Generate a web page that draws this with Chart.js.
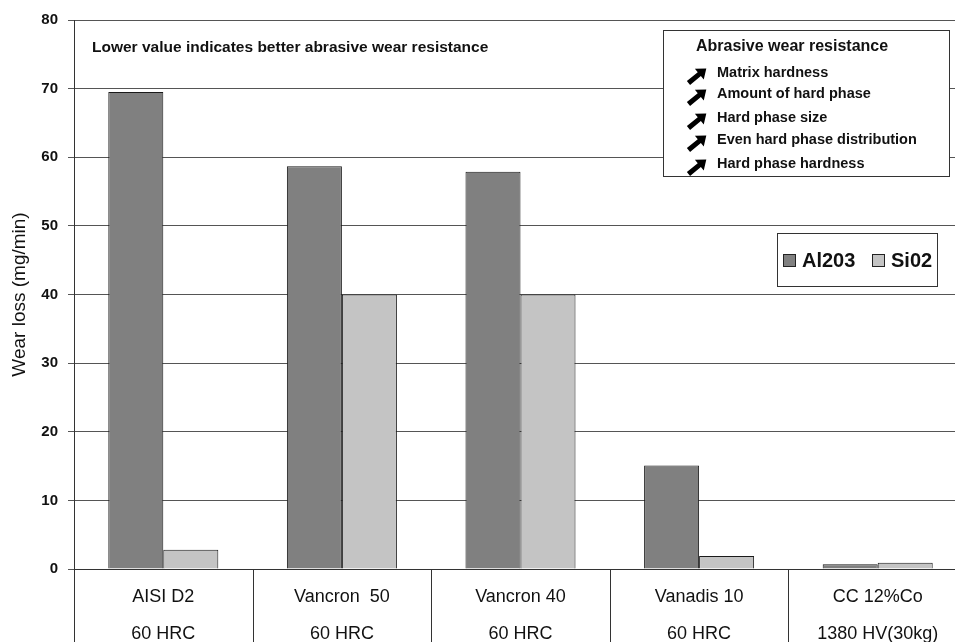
<!DOCTYPE html>
<html>
<head>
<meta charset="utf-8">
<script src="https://cdn.jsdelivr.net/npm/chart.js@4.4.1/dist/chart.umd.min.js"></script>
<style>
  html, body { margin: 0; padding: 0; background: #fff; overflow: hidden; }
  #wrap { width: 967px; height: 642px; }
</style>
</head>
<body>
<div id="wrap"><canvas id="wearchart" width="967" height="642"></canvas></div>
<script>
// values
const materials = ["AISI D2", "Vancron  50", "Vancron 40", "Vanadis 10", "CC 12%Co"]
const hardness = ["60 HRC", "60 HRC", "60 HRC", "60 HRC", "1380 HV(30kg)"]
const al203 = [69.5, 58.7, 57.9, 15.1, 0.7]
const si02 = [2.8, 40, 40, 1.9, 0.9]
const yTicks = [0, 10, 20, 30, 40, 50, 60, 70, 80]
const noteText = "Lower value indicates better abrasive wear resistance"
const boxTitle = "Abrasive wear resistance"
const boxItems = ["Matrix hardness", "Amount of hard phase", "Hard phase size", "Even hard phase distribution", "Hard phase hardness"]

const fam = "'Liberation Sans', Arial, sans-serif"
let labels = materials.map((m, i) => [m, hardness[i]])

// little up-right arrow like the one in the picture
function drawArrow(ctx, x, y) {
    ctx.save()
    ctx.translate(x, y)
    ctx.rotate(-Math.PI / 4.6)
    ctx.fillStyle = "#000"
    ctx.beginPath()
    ctx.moveTo(-11, -2.5)
    ctx.lineTo(3, -2.5)
    ctx.lineTo(3, -7)
    ctx.lineTo(12, 0)
    ctx.lineTo(3, 7)
    ctx.lineTo(3, 2.5)
    ctx.lineTo(-11, 2.5)
    ctx.closePath()
    ctx.fill()
    ctx.restore()
}

const extras = {
    id: "extras",
    afterDraw(chart) {
        let ctx = chart.ctx
        let area = chart.chartArea
        let xs = chart.scales.x
        //category separators under the axis
        let half = (xs.getPixelForTick(1) - xs.getPixelForTick(0)) / 2
        ctx.save()
        ctx.strokeStyle = "#333"
        ctx.lineWidth = 1
        for (let i = 0; i <= materials.length; i++) {
            let x = Math.round(xs.getPixelForTick(0) - half + i * half * 2) + 0.5
            ctx.beginPath()
            ctx.moveTo(x, area.bottom)
            ctx.lineTo(x, chart.height)
            ctx.stroke()
        }
        //note text
        ctx.fillStyle = "#111"
        ctx.font = "bold 15.5px " + fam
        ctx.textBaseline = "middle"
        ctx.textAlign = "left"
        ctx.fillText(noteText, 92, 48)

        //box with the arrows
        ctx.fillStyle = "#fff"
        ctx.fillRect(663, 30, 287, 147)
        ctx.strokeStyle = "#333"
        ctx.strokeRect(663.5, 30.5, 286, 146)
        ctx.fillStyle = "#111"
        ctx.font = "bold 16px " + fam
        ctx.fillText(boxTitle, 696, 47)
        ctx.font = "bold 14.5px " + fam
        let ys = [73, 94, 118, 140, 164]
        boxItems.forEach((t, i) => {
            ctx.fillStyle = "#111"
            ctx.fillText(t, 717, ys[i])
            drawArrow(ctx, 697, ys[i] + 3)
        })

        //legend box
        ctx.fillStyle = "#fff"
        ctx.fillRect(777, 233, 161, 54)
        ctx.strokeStyle = "#333"
        ctx.strokeRect(777.5, 233.5, 160, 53)
        let ds = chart.data.datasets
        let lx = [783, 872]
        ds.forEach((d, i) => {
            ctx.fillStyle = d.backgroundColor
            ctx.fillRect(lx[i], 254, 13, 13)
            ctx.strokeStyle = "#222"
            ctx.strokeRect(lx[i] + 0.5, 254.5, 12, 12)
            ctx.fillStyle = "#111"
            ctx.font = "bold 20px " + fam
            ctx.fillText(d.label, lx[i] + 19, 261)
        })
        ctx.restore()
    }
}

let chart = new Chart(document.getElementById("wearchart"), {
    type: "bar",
    data: {
        labels: labels,
        datasets: [
            {
                label: "Al203",
                data: al203,
                backgroundColor: "#808080",
                borderColor: "#1a1a1a",
                borderWidth: 1
            },
            {
                label: "Si02",
                data: si02,
                backgroundColor: "#c4c4c4",
                borderColor: "#1a1a1a",
                borderWidth: 1
            }
        ]
    },
    options: {
        responsive: false,
        animation: false,
        layout: { padding: { top: 20, right: 0, bottom: 0, left: 0 } },
        datasets: { bar: { categoryPercentage: 0.616, barPercentage: 1 } },
        plugins: {
            legend: { display: false },
            tooltip: { enabled: false }
        },
        scales: {
            x: {
                grid: { display: false },
                border: { color: "#333" },
                ticks: {
                    color: "#111",
                    font: { family: fam, size: 18, lineHeight: 37 / 18 },
                    padding: 2,
                    maxRotation: 0,
                    autoSkip: false
                },
                afterFit(scale) { scale.height = 73 }
            },
            y: {
                min: 0,
                max: 80,
                afterBuildTicks(scale) { scale.ticks = yTicks.map(v => ({ value: v })) },
                grid: { color: "#555", tickLength: 6, lineWidth: 1 },
                border: { color: "#333" },
                ticks: {
                    color: "#111",
                    font: { family: fam, size: 15, weight: "bold" },
                    padding: 10
                },
                title: {
                    display: true,
                    text: "Wear loss (mg/min)",
                    color: "#111",
                    font: { family: fam, size: 19 },
                    padding: { top: 8, bottom: 0 }
                },
                afterFit(scale) { scale.width = 74 }
            }
        }
    },
    plugins: [extras]
})
</script>
</body>
</html>
